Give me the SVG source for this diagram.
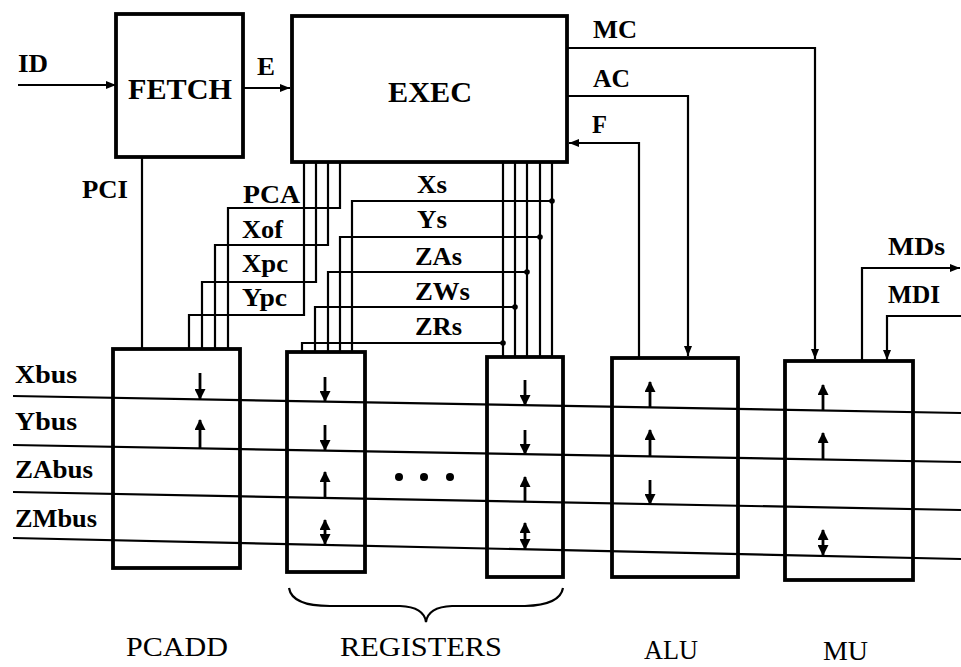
<svg xmlns="http://www.w3.org/2000/svg" width="961" height="667" viewBox="0 0 961 667">
<style>
.box{fill:#fff;stroke:#000;stroke-width:3.8}
.w{fill:none;stroke:#000;stroke-width:2.2}
.bus{fill:none;stroke:#000;stroke-width:2.2}
.ia{fill:none;stroke:#000;stroke-width:2.8}
.t{font-family:"Liberation Serif","Times New Roman",serif;font-weight:bold;fill:#000}
.bl{font-family:"Liberation Serif","Times New Roman",serif;font-weight:normal;fill:#000;font-size:27px}
.dot{fill:#000}
</style>
<defs>
<marker id="a" markerUnits="userSpaceOnUse" markerWidth="10" markerHeight="8" refX="10" refY="4" orient="auto"><path d="M0,0 L10,4 L0,8 z"/></marker>
<marker id="ih" markerUnits="userSpaceOnUse" markerWidth="11" markerHeight="11" refX="10" refY="5.5" orient="auto-start-reverse"><path d="M0,0 L11,5.5 L0,11 z"/></marker>
</defs>

<g id="fetch">
<rect class="box" x="116" y="14" width="127" height="143"/>
<text class="t" x="128" y="99" font-size="30" textLength="104" lengthAdjust="spacingAndGlyphs">FETCH</text>
</g>
<g id="exec">
<rect class="box" x="292" y="16" width="275" height="146"/>
<text class="t" x="388" y="102" font-size="29" textLength="84" lengthAdjust="spacingAndGlyphs">EXEC</text>
</g>
<g id="pcadd">
<rect class="box" x="113" y="349" width="127" height="219"/>
</g>
<g id="reg1">
<rect class="box" x="287" y="352" width="78" height="220"/>
</g>
<g id="reg2">
<rect class="box" x="487" y="357" width="76" height="220"/>
</g>
<g id="alu">
<rect class="box" x="612" y="358" width="126" height="219"/>
</g>
<g id="mu">
<rect class="box" x="785" y="361" width="128" height="219"/>
</g>

<g id="buses">
<line class="bus" x1="13" y1="396" x2="961" y2="413"/>
<line class="bus" x1="13" y1="445" x2="961" y2="462"/>
<line class="bus" x1="13" y1="492" x2="961" y2="510"/>
<line class="bus" x1="13" y1="538" x2="961" y2="559"/>
<text class="t" x="15" y="383" font-size="26" textLength="62" lengthAdjust="spacingAndGlyphs">Xbus</text>
<text class="t" x="15" y="430" font-size="26" textLength="62" lengthAdjust="spacingAndGlyphs">Ybus</text>
<text class="t" x="15" y="478" font-size="26" textLength="78" lengthAdjust="spacingAndGlyphs">ZAbus</text>
<text class="t" x="15" y="527" font-size="26" textLength="82" lengthAdjust="spacingAndGlyphs">ZMbus</text>
</g>

<g id="connectors">
<line class="w" x1="18" y1="85" x2="116" y2="85" marker-end="url(#a)"/>
<line class="w" x1="243" y1="88" x2="290" y2="88" marker-end="url(#a)"/>
<line class="w" x1="142" y1="157" x2="142" y2="349"/>
<polyline class="w" points="340,162 340,208 228,208 228,349"/>
<polyline class="w" points="328,162 328,245 215,245 215,349"/>
<polyline class="w" points="316,162 316,282 202,282 202,349"/>
<polyline class="w" points="304,162 304,315 189,315 189,349"/>
<line class="w" x1="503" y1="162" x2="503" y2="357"/>
<line class="w" x1="515" y1="162" x2="515" y2="357"/>
<line class="w" x1="527" y1="162" x2="527" y2="357"/>
<line class="w" x1="540" y1="162" x2="540" y2="357"/>
<line class="w" x1="552" y1="162" x2="552" y2="357"/>
<polyline class="w" points="552,201 352,201 352,352"/>
<polyline class="w" points="540,237 340,237 340,352"/>
<polyline class="w" points="527,272 328,272 328,352"/>
<polyline class="w" points="515,307 315,307 315,352"/>
<polyline class="w" points="503,343 302,343 302,352"/>
<circle class="dot" cx="552" cy="201" r="2.8"/>
<circle class="dot" cx="540" cy="237" r="2.8"/>
<circle class="dot" cx="527" cy="272" r="2.8"/>
<circle class="dot" cx="515" cy="307" r="2.8"/>
<circle class="dot" cx="503" cy="343" r="2.8"/>
<polyline class="w" points="567,48 815,48 815,359" marker-end="url(#a)"/>
<polyline class="w" points="567,96 688,96 688,356" marker-end="url(#a)"/>
<polyline class="w" points="639,357 639,143 569,143" marker-end="url(#a)"/>
<polyline class="w" points="862,361 862,268 960,268" marker-end="url(#a)"/>
<polyline class="w" points="961,316 887,316 887,360" marker-end="url(#a)"/>
</g>

<g id="labels">
<text class="t" x="18" y="72" font-size="26" textLength="30" lengthAdjust="spacingAndGlyphs">ID</text>
<text class="t" x="257" y="75" font-size="25" textLength="18" lengthAdjust="spacingAndGlyphs">E</text>
<text class="t" x="593" y="38" font-size="25" textLength="44" lengthAdjust="spacingAndGlyphs">MC</text>
<text class="t" x="593" y="87" font-size="25" textLength="37" lengthAdjust="spacingAndGlyphs">AC</text>
<text class="t" x="592" y="133" font-size="25" textLength="15" lengthAdjust="spacingAndGlyphs">F</text>
<text class="t" x="82" y="198" font-size="26" textLength="46" lengthAdjust="spacingAndGlyphs">PCI</text>
<text class="t" x="243" y="203" font-size="26" textLength="57" lengthAdjust="spacingAndGlyphs">PCA</text>
<text class="t" x="242" y="238" font-size="26" textLength="41" lengthAdjust="spacingAndGlyphs">Xof</text>
<text class="t" x="242" y="272" font-size="26" textLength="46" lengthAdjust="spacingAndGlyphs">Xpc</text>
<text class="t" x="242" y="306" font-size="26" textLength="45" lengthAdjust="spacingAndGlyphs">Ypc</text>
<text class="t" x="417" y="193" font-size="26" textLength="30" lengthAdjust="spacingAndGlyphs">Xs</text>
<text class="t" x="417" y="228" font-size="26" textLength="30" lengthAdjust="spacingAndGlyphs">Ys</text>
<text class="t" x="415" y="265" font-size="26" textLength="47" lengthAdjust="spacingAndGlyphs">ZAs</text>
<text class="t" x="415" y="300" font-size="26" textLength="55" lengthAdjust="spacingAndGlyphs">ZWs</text>
<text class="t" x="415" y="335" font-size="26" textLength="47" lengthAdjust="spacingAndGlyphs">ZRs</text>
<text class="t" x="888" y="255" font-size="25" textLength="57" lengthAdjust="spacingAndGlyphs">MDs</text>
<text class="t" x="888" y="303" font-size="25" textLength="52" lengthAdjust="spacingAndGlyphs">MDI</text>
</g>

<g id="unit-arrows">
<line class="ia" x1="200" y1="373" x2="200" y2="399" marker-end="url(#ih)"/>
<line class="ia" x1="200" y1="448" x2="200" y2="420" marker-end="url(#ih)"/>
<line class="ia" x1="325" y1="377" x2="325" y2="401" marker-end="url(#ih)"/>
<line class="ia" x1="325" y1="425" x2="325" y2="450" marker-end="url(#ih)"/>
<line class="ia" x1="325" y1="498" x2="325" y2="472" marker-end="url(#ih)"/>
<line class="ia" x1="325" y1="544" x2="325" y2="520" marker-start="url(#ih)" marker-end="url(#ih)"/>
<line class="ia" x1="525" y1="380" x2="525" y2="405" marker-end="url(#ih)"/>
<line class="ia" x1="525" y1="430" x2="525" y2="454" marker-end="url(#ih)"/>
<line class="ia" x1="525" y1="502" x2="525" y2="477" marker-end="url(#ih)"/>
<line class="ia" x1="525" y1="549" x2="525" y2="523" marker-start="url(#ih)" marker-end="url(#ih)"/>
<line class="ia" x1="650" y1="407" x2="650" y2="382" marker-end="url(#ih)"/>
<line class="ia" x1="650" y1="456" x2="650" y2="430" marker-end="url(#ih)"/>
<line class="ia" x1="650" y1="480" x2="650" y2="504" marker-end="url(#ih)"/>
<line class="ia" x1="823" y1="410" x2="823" y2="385" marker-end="url(#ih)"/>
<line class="ia" x1="823" y1="459" x2="823" y2="433" marker-end="url(#ih)"/>
<line class="ia" x1="823" y1="555" x2="823" y2="530" marker-start="url(#ih)" marker-end="url(#ih)"/>
</g>

<g id="ellipsis">
<circle class="dot" cx="399" cy="477" r="4"/>
<circle class="dot" cx="424" cy="477" r="4"/>
<circle class="dot" cx="450" cy="477" r="4"/>
</g>

<g id="bottom-labels">
<path class="w" d="M289,588 Q292,606 330,606 L400,606 Q424,607 426,622 Q428,607 452,606 L525,606 Q560,605 563,588"/>
<text class="bl" x="126" y="656" textLength="102" lengthAdjust="spacingAndGlyphs">PCADD</text>
<text class="bl" x="340" y="656" textLength="162" lengthAdjust="spacingAndGlyphs">REGISTERS</text>
<text class="bl" x="644" y="659" textLength="54" lengthAdjust="spacingAndGlyphs">ALU</text>
<text class="bl" x="823" y="660" textLength="45" lengthAdjust="spacingAndGlyphs">MU</text>
</g>
</svg>
